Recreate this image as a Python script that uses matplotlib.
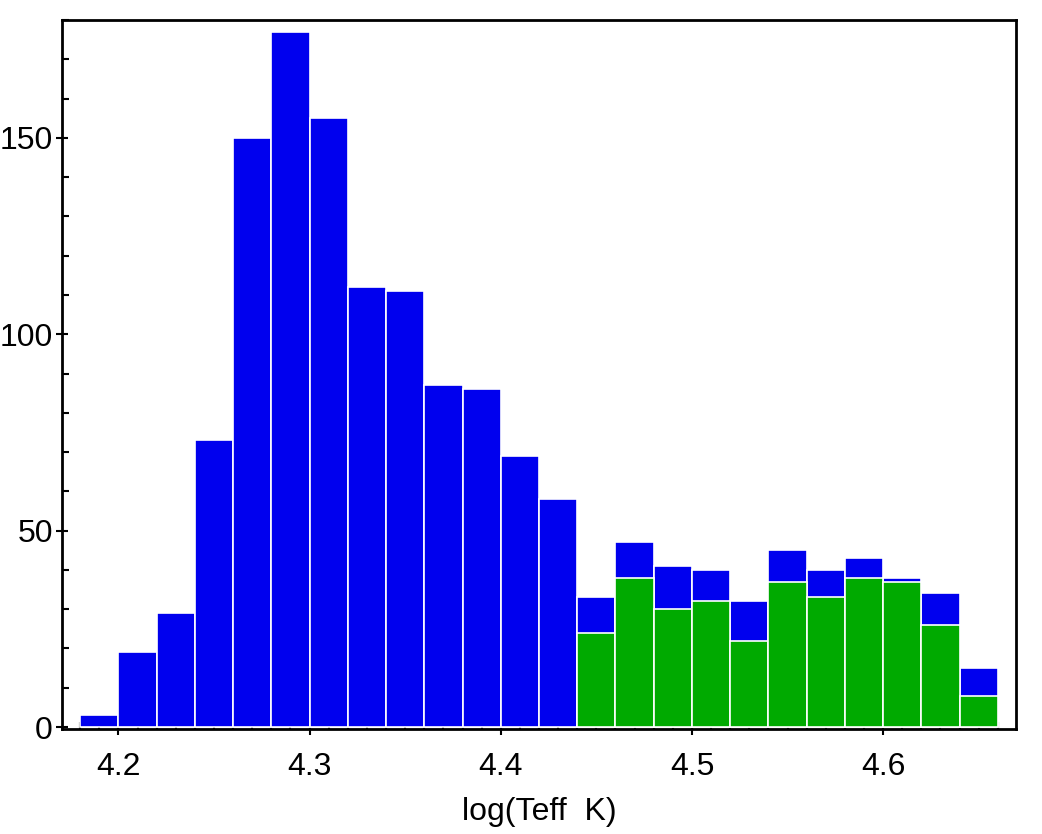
import matplotlib
matplotlib.use("Agg")
import matplotlib.pyplot as plt
from matplotlib.ticker import MultipleLocator

plt.rcParams['font.family'] = ['Liberation Sans', 'DejaVu Sans']

bin_left = [4.18, 4.20, 4.22, 4.24, 4.26, 4.28, 4.30, 4.32, 4.34, 4.36, 4.38, 4.40,
            4.42, 4.44, 4.46, 4.48, 4.50, 4.52, 4.54, 4.56, 4.58, 4.60, 4.62, 4.64]
total_counts = [3, 19, 29, 73, 150, 177, 155, 112, 111, 87, 86, 69,
                58, 33, 47, 41, 40, 32, 45, 40, 43, 38, 34, 15]
green_left = [4.44, 4.46, 4.48, 4.50, 4.52, 4.54, 4.56, 4.58, 4.60, 4.62, 4.64]
green_counts = [24, 38, 30, 32, 22, 37, 33, 38, 37, 26, 8]
bin_width = 0.02

fig = plt.figure(figsize=(10.42, 8.34), dpi=100)
ax = fig.add_axes([62/1042, 105/834, (1016-62)/1042, (729-20)/834])

ax.bar(bin_left, total_counts, width=bin_width, align='edge', color='#0000ee',
       edgecolor='white', linewidth=1.2, zorder=2)
ax.bar(green_left, green_counts, width=bin_width, align='edge', color='#00aa00',
       edgecolor='white', linewidth=1.2, zorder=3)

ax.set_xlim(4.1705, 4.6695)
ax.set_ylim(-0.5, 180)

ax.xaxis.set_major_locator(MultipleLocator(0.1))
ax.xaxis.set_minor_locator(MultipleLocator(0.01))
ax.yaxis.set_major_locator(MultipleLocator(50))
ax.yaxis.set_minor_locator(MultipleLocator(10))
ax.set_xticks([4.2, 4.3, 4.4, 4.5, 4.6])
ax.set_xticklabels(['4.2', '4.3', '4.4', '4.5', '4.6'])

ax.tick_params(axis='both', which='major', direction='inout', length=9, width=1.5,
               top=False, right=False)
ax.tick_params(axis='both', which='minor', direction='in', length=5, width=1.5,
               top=False, right=False)
ax.tick_params(axis='x', which='major', labelsize=23, pad=12)
ax.tick_params(axis='y', which='major', labelsize=23, pad=2)

for s in ax.spines.values():
    s.set_linewidth(2)
    s.set_zorder(5)

ax.set_xlabel('log(Teff  K)', fontsize=23, labelpad=11)

fig.savefig('out.png', dpi=100)
